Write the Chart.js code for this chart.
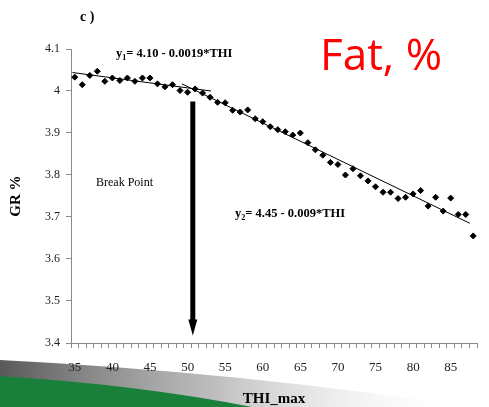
<!DOCTYPE html>
<html><head><meta charset="utf-8">
<script src="https://cdn.jsdelivr.net/npm/chart.js@4.4.1/dist/chart.umd.min.js"></script>
<style>html,body{margin:0;padding:0;background:#fff;overflow:hidden}canvas{display:block}</style>
</head><body>
<canvas id="c" width="489" height="407"></canvas>
<script>
// ---- data ----
const thi = [35,36,37,38,39,40,41,42,43,44,45,46,47,48,49,50,51,52,53,54,55,56,57,58,59,60,61,62,63,64,65,66,67,68,69,70,71,72,73,74,75,76,77,78,79,80,81,82,83,84,85,86,87,88];
const gr = [4.033,4.015,4.037,4.047,4.023,4.031,4.025,4.031,4.023,4.031,4.031,4.017,4.010,4.015,4.001,3.997,4.005,3.995,3.985,3.973,3.972,3.954,3.950,3.955,3.934,3.927,3.915,3.908,3.903,3.895,3.900,3.877,3.860,3.847,3.830,3.825,3.800,3.815,3.798,3.786,3.772,3.759,3.759,3.744,3.747,3.755,3.763,3.726,3.747,3.714,3.745,3.706,3.706,3.655];
const fit1X = [34.7, 53.1];
const fit1Y = [4.044, 4.000];
const fit2X = [49.25, 87.55];
const fit2Y = [4.017, 3.685];
const arrowX = [50.7, 50.7];
const arrowY = [3.975, 3.418];
const xTickLabels = [35,40,45,50,55,60,65,70,75,80,85];
const yTicks = [3.4,3.5,3.6,3.7,3.8,3.9,4.0,4.1];
const xMin = 34.5, xMax = 88.5;

const toPts = (xs, ys) => xs.map((x, i) => ({x: x, y: ys[i]}));
const SERIF = '"Liberation Serif", "Times New Roman", serif';

const decor = {
  id: 'decor',
  beforeDraw(chart) {
    const c = chart.ctx;
    c.save();
    let g = c.createLinearGradient(0, 0, 470, 0);
    g.addColorStop(0, 'rgba(80,80,80,0.95)');
    g.addColorStop(0.45, 'rgba(160,160,160,0.7)');
    g.addColorStop(1, 'rgba(255,255,255,0)');
    c.beginPath(); c.moveTo(0, 360); c.quadraticCurveTo(240, 372, 470, 407); c.lineTo(0, 407); c.closePath();
    c.fillStyle = g; c.fill();
    c.beginPath(); c.moveTo(0, 376); c.quadraticCurveTo(140, 385, 252, 407); c.lineTo(0, 407); c.closePath();
    c.fillStyle = '#18803a'; c.fill();
    c.restore();
  }
};

function subText(c, x, y, base, sub, rest, size) {
  c.font = 'bold ' + size + 'px ' + SERIF;
  c.fillText(base, x, y); x += c.measureText(base).width;
  c.font = 'bold ' + (size * 0.65) + 'px ' + SERIF;
  c.fillText(sub, x, y + 3); x += c.measureText(sub).width;
  c.font = 'bold ' + size + 'px ' + SERIF;
  c.fillText(rest, x, y);
}

const annot = {
  id: 'annot',
  afterDraw(chart) {
    const c = chart.ctx, xs = chart.scales.x, ys = chart.scales.y;
    c.save();
    // arrow
    const ax = xs.getPixelForValue(arrowX[0]);
    const top = ys.getPixelForValue(arrowY[0]);
    const tip = ys.getPixelForValue(arrowY[1]);
    const head = 16;
    c.fillStyle = '#000';
    c.fillRect(ax - 2.5, top, 5, tip - head - top + 1);
    c.beginPath(); c.moveTo(ax - 4.5, tip - head); c.lineTo(ax + 4.5, tip - head); c.lineTo(ax, tip); c.closePath(); c.fill();
    // texts
    c.fillStyle = '#000';
    c.textBaseline = 'alphabetic';
    c.textAlign = 'left';
    c.font = 'bold 14px ' + SERIF;
    c.fillText('c )', 80, 21);
    subText(c, 116, 57, 'y', '1', '= 4.10 - 0.0019*THI', 12.5);
    subText(c, 235, 217, 'y', '2', '= 4.45 - 0.009*THI', 12.5);
    c.font = '12px ' + SERIF;
    c.fillText('Break Point', 96, 186);
    c.fillStyle = '#ff0000';
    c.font = '44px "Open Sans", sans-serif';
    c.fillText('Fat, %', 320, 70);
    c.restore();
  }
};

new Chart(document.getElementById('c'), {
  type: 'scatter',
  data: {
    datasets: [
      { data: toPts(thi, gr), pointStyle: 'rectRot', pointRadius: 3, pointBorderWidth: 1,
        backgroundColor: '#000', borderColor: '#000', showLine: false },
      { data: toPts(fit1X, fit1Y), showLine: true, pointRadius: 0, borderColor: '#000', borderWidth: 1 },
      { data: toPts(fit2X, fit2Y), showLine: true, pointRadius: 0, borderColor: '#000', borderWidth: 1 }
    ]
  },
  options: {
    responsive: false,
    animation: false,
    devicePixelRatio: 1,
    layout: { padding: { top: 49, right: 0, left: 0, bottom: 0 } },
    plugins: { legend: { display: false }, tooltip: { enabled: false } },
    scales: {
      x: {
        type: 'linear', min: xMin, max: xMax,
        afterBuildTicks(s) {
          const t = [];
          for (let v = xMin; v <= xMax + 1e-9; v += 1) t.push({ value: v });
          s.ticks = t;
        },
        afterFit(s) { s.height = 64; },
        grid: { drawOnChartArea: false, tickLength: 5, color: '#8a8a8a' },
        border: { color: '#8a8a8a', width: 1 },
        ticks: {
          autoSkip: false, maxRotation: 0, padding: 12, labelOffset: 3.87,
          color: '#222', font: { family: SERIF, size: 13 },
          callback(v) { const k = v + 0.5; return xTickLabels.includes(k) ? String(k) : ''; }
        },
        title: { display: true, text: 'THI_max', color: '#000',
          font: { family: SERIF, size: 15, weight: 'bold', lineHeight: 1 }, padding: { top: 0, bottom: 0 } }
      },
      y: {
        min: 3.4, max: 4.1,
        afterBuildTicks(s) { s.ticks = yTicks.map(v => ({ value: v })); },
        afterFit(s) { s.width = 71; },
        grid: { drawOnChartArea: false, tickLength: 5, color: '#8a8a8a' },
        border: { color: '#8a8a8a', width: 1 },
        ticks: { padding: 6, color: '#222', font: { family: SERIF, size: 12 },
          callback(v) { return String(Number(v.toFixed(1))); } },
        title: { display: true, text: 'GR %', color: '#000',
          font: { family: SERIF, size: 15, weight: 'bold', lineHeight: 1 }, padding: { top: 8.5, bottom: 0 } }
      }
    }
  },
  plugins: [decor, annot]
});
</script>
</body></html>
